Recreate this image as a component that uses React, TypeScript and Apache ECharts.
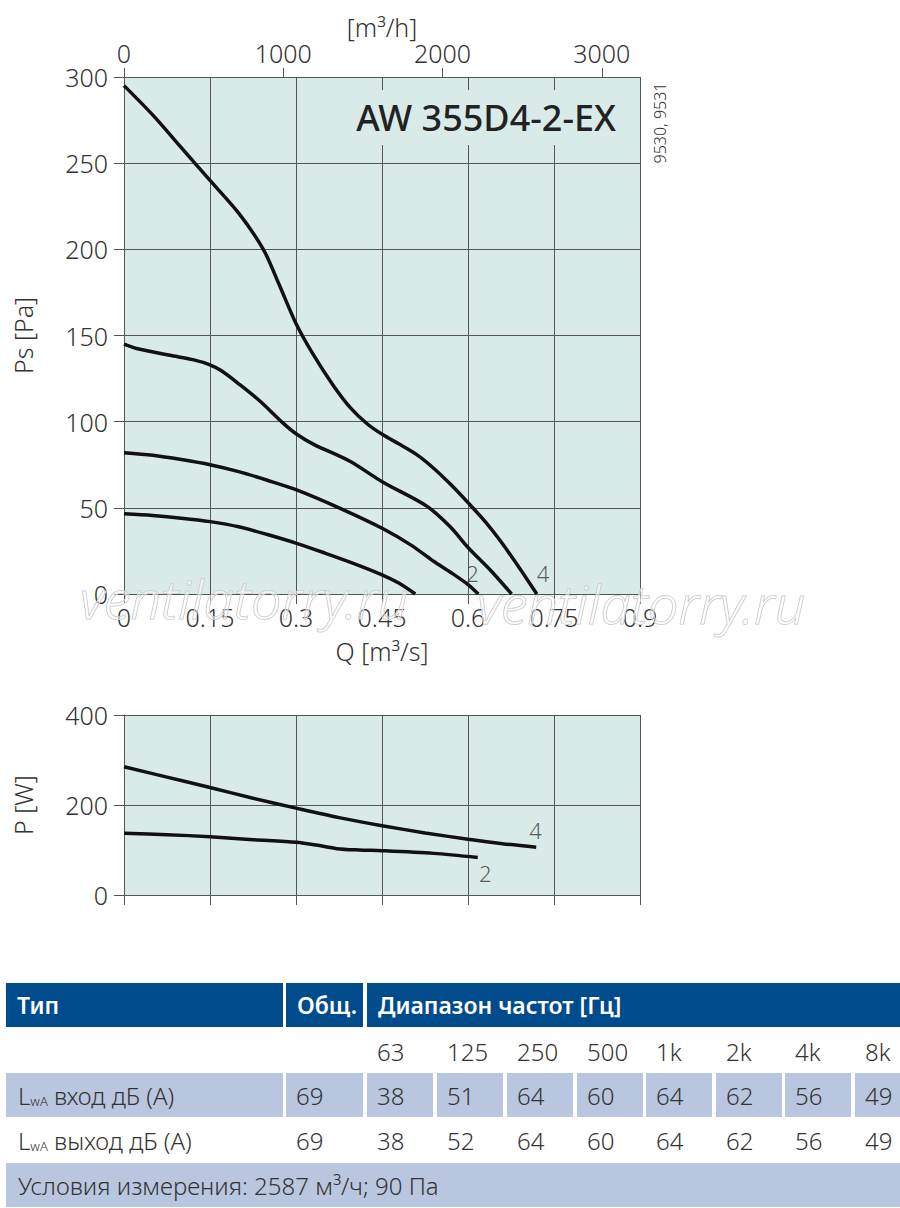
import React, { useEffect, useRef } from "react";
import * as echarts from "echarts";

// ---------- data ----------
const psCurve4: number[][] = [
  [0, 295], [0.05, 278], [0.1, 259], [0.15, 240], [0.2, 221], [0.243, 200],
  [0.27, 180], [0.3, 157], [0.33, 139], [0.365, 121], [0.395, 108], [0.425, 98.5],
  [0.451, 92.5], [0.48, 87], [0.51, 81], [0.54, 73], [0.57, 63.5], [0.6, 53],
  [0.63, 42], [0.656, 31], [0.69, 15], [0.72, 0],
];
const psCurve3: number[][] = [
  [0, 145], [0.022, 142.5], [0.08, 138.5], [0.12, 136], [0.15, 133], [0.17, 129.5],
  [0.2, 122], [0.237, 112], [0.278, 99], [0.3, 93], [0.33, 87], [0.394, 77],
  [0.451, 65], [0.528, 51], [0.569, 39], [0.6, 27], [0.64, 13.5], [0.676, 0],
];
const psCurve2: number[][] = [
  [0, 82], [0.05, 80.5], [0.1, 78], [0.15, 75], [0.2, 71], [0.25, 66],
  [0.301, 60.4], [0.377, 49.7], [0.451, 38], [0.5, 28.5], [0.54, 19],
  [0.57, 12.5], [0.6, 5.5], [0.618, 0],
];
const psCurve1: number[][] = [
  [0, 46.5], [0.05, 45.5], [0.1, 44], [0.15, 42], [0.2, 39], [0.25, 34.5],
  [0.301, 29.4], [0.35, 23.8], [0.4, 17.8], [0.451, 11], [0.48, 6.2], [0.508, 0],
];
const powerCurve4: number[][] = [
  [0, 285], [0.075, 262], [0.15, 239], [0.225, 215], [0.3, 193], [0.375, 172],
  [0.45, 154], [0.525, 138], [0.6, 124], [0.66, 114], [0.719, 106],
];
const powerCurve2: number[][] = [
  [0, 137], [0.075, 134], [0.15, 129.5], [0.225, 123], [0.3, 117], [0.335, 111],
  [0.371, 103], [0.41, 100], [0.45, 98.5], [0.54, 92.5], [0.617, 83.5],
];
const psCurveLabels = [
  { name: "2", value: [0.608, 12] },
  { name: "4", value: [0.731, 12] },
];
const powerCurveLabels = [
  { name: "4", value: [0.718, 144] },
  { name: "2", value: [0.63, 49] },
];
const freqLabels = ["63", "125", "250", "500", "1k", "2k", "4k", "8k"];
const inletValues = ["38", "51", "64", "60", "64", "62", "56", "49"];
const outletValues = ["38", "52", "64", "60", "64", "62", "56", "49"];
const inletTotal = "69";
const outletTotal = "69";
const headerLabels = ["Тип", "Общ.", "Диапазон частот [Гц]"];
const conditionText = "Условия измерения: 2587 м³/ч; 90 Па";
const modelName = "AW 355D4-2-EX";
const codeText = "9530, 9531";
const watermarkText = "ventilatorry.ru";
const flowTicksM3h = [0, 1000, 2000, 3000];

// ---------- styles ----------
const FONT = "'Noto Sans', 'Open Sans', sans-serif";
const PLOT_BG = "#d8ebe9";
const GRID_COLOR = "#555";
const TEXT_COLOR = "#333";
const CURVE_COLOR = "#111";
const HEAD_BLUE = "#004b8c";
const ROW_BLUE = "#b9c6df";
const LIGHT = 300;

function lineSeries(data: number[][], xi: number, yi: number) {
  return {
    type: "line",
    xAxisIndex: xi,
    yAxisIndex: yi,
    data,
    smooth: 0.3,
    showSymbol: false,
    symbol: "none",
    silent: true,
    lineStyle: { color: CURVE_COLOR, width: 3.5 },
    z: 3,
  };
}

function labelSeries(data: any[], xi: number, yi: number) {
  return {
    type: "scatter",
    xAxisIndex: xi,
    yAxisIndex: yi,
    data,
    symbolSize: 0,
    silent: true,
    label: {
      show: true,
      position: "inside",
      formatter: "{b}",
      fontSize: 22,
      fontWeight: LIGHT,
      fontFamily: FONT,
      color: TEXT_COLOR,
    },
    z: 4,
  };
}

function buildTable() {
  const els: any[] = [];
  const txt = (text: string, x: number, y: number, extra: any = {}) => ({
    type: "text",
    x,
    y,
    style: {
      text,
      fontSize: 24,
      fontWeight: LIGHT,
      fontFamily: FONT,
      fill: TEXT_COLOR,
      align: "left",
      verticalAlign: "middle",
      ...extra,
    },
  });
  const rect = (x: number, y: number, w: number, h: number, fill: string) => ({
    type: "rect",
    shape: { x, y, width: w, height: h },
    style: { fill },
  });
  // header
  const headTop = 983, headH = 44;
  const headCells = [[6, 277], [286, 77], [367, 533]];
  headCells.forEach((c, i) => {
    els.push(rect(c[0], headTop, c[1], headH, HEAD_BLUE));
    els.push(txt(headerLabels[i], c[0] + 11, headTop + headH / 2, { fill: "#fff", fontWeight: 600, fontSize: 23 }));
  });
  const colX = [367, 437, 507, 577, 646, 716, 785, 855];
  const colW = 66;
  // frequency row
  const freqY = 1051;
  freqLabels.forEach((f, i) => els.push(txt(f, colX[i] + 10, freqY)));
  // inlet row (shaded)
  const inTop = 1073, rowH = 44;
  els.push(rect(6, inTop, 277, rowH, ROW_BLUE));
  els.push(rect(286, inTop, 77, rowH, ROW_BLUE));
  colX.forEach((x, i) => els.push(rect(x, inTop, i === colX.length - 1 ? 900 - x : colW, rowH, ROW_BLUE)));
  const lwaRich = {
    a: { fontSize: 24, fontWeight: LIGHT, fontFamily: FONT, fill: TEXT_COLOR },
    b: { fontSize: 13, fontWeight: LIGHT, fontFamily: FONT, fill: TEXT_COLOR, verticalAlign: "bottom" },
  };
  els.push({
    type: "text",
    x: 18,
    y: inTop + rowH / 2,
    style: { text: "{a|L}{b|wA}{a| вход дБ (A)}", rich: lwaRich, verticalAlign: "middle", align: "left" },
  });
  els.push(txt(inletTotal, 296, inTop + rowH / 2));
  inletValues.forEach((v, i) => els.push(txt(v, colX[i] + 10, inTop + rowH / 2)));
  // outlet row
  const outY = 1140;
  els.push({
    type: "text",
    x: 18,
    y: outY,
    style: { text: "{a|L}{b|wA}{a| выход дБ (A)}", rich: lwaRich, verticalAlign: "middle", align: "left" },
  });
  els.push(txt(outletTotal, 296, outY));
  outletValues.forEach((v, i) => els.push(txt(v, colX[i] + 10, outY)));
  // condition row
  els.push(rect(6, 1163, 894, 44, ROW_BLUE));
  els.push(txt(conditionText, 18, 1185));
  return els;
}

export default function App() {
  const ref = useRef<HTMLDivElement>(null);
  useEffect(() => {
    if (!ref.current) return;
    const chart = echarts.init(ref.current, undefined, { renderer: "svg" });
    const axisLabelStyle = { fontSize: 25, fontWeight: LIGHT, fontFamily: FONT, color: TEXT_COLOR };
    const nameStyle = { fontSize: 25, fontWeight: LIGHT, fontFamily: FONT, color: TEXT_COLOR };
    const lineStyle = { color: GRID_COLOR, width: 1 };
    const option: any = {
      animation: false,
      backgroundColor: "#fff",
      grid: [
        { left: 124, top: 77, width: 516, height: 517, show: true, backgroundColor: PLOT_BG, borderWidth: 0 },
        { left: 124, top: 715, width: 516, height: 180, show: true, backgroundColor: PLOT_BG, borderWidth: 0 },
      ],
      xAxis: [
        {
          type: "value", gridIndex: 0, position: "bottom", min: 0, max: 0.9, interval: 0.15,
          name: "Q [m³/s]", nameLocation: "middle", nameGap: 44, nameTextStyle: nameStyle,
          axisLine: { show: true, lineStyle },
          axisTick: { show: true, length: 10, lineStyle },
          axisLabel: { ...axisLabelStyle, margin: 10, formatter: (v: number) => String(+v.toFixed(2)) },
          splitLine: { show: true, lineStyle },
        },
        {
          type: "value", gridIndex: 0, position: "top", min: 0, max: 3240, interval: 1000,
          name: "[m³/h]", nameLocation: "middle", nameGap: 36, nameTextStyle: nameStyle,
          axisLine: { show: true, lineStyle },
          axisTick: { show: true, length: 9, lineStyle, customValues: flowTicksM3h },
          axisLabel: { ...axisLabelStyle, margin: 12, customValues: flowTicksM3h, formatter: (v: number) => String(v) },
          splitLine: { show: false },
        },
        {
          type: "value", gridIndex: 1, position: "bottom", min: 0, max: 0.9, interval: 0.15,
          axisLine: { show: true, lineStyle },
          axisTick: { show: true, length: 10, lineStyle },
          axisLabel: { show: false },
          splitLine: { show: true, lineStyle },
        },
      ],
      yAxis: [
        {
          type: "value", gridIndex: 0, min: 0, max: 300, interval: 50,
          name: "Ps [Pa]", nameLocation: "middle", nameGap: 89, nameRotate: 90, nameTextStyle: nameStyle,
          axisLine: { show: true, lineStyle },
          axisTick: { show: true, length: 10, lineStyle },
          axisLabel: { ...axisLabelStyle, margin: 16 },
          splitLine: { show: true, lineStyle },
        },
        {
          type: "value", gridIndex: 1, min: 0, max: 400, interval: 200,
          name: "P [W]", nameLocation: "middle", nameGap: 89, nameRotate: 90, nameTextStyle: nameStyle,
          axisLine: { show: true, lineStyle },
          axisTick: { show: true, length: 10, lineStyle },
          axisLabel: { ...axisLabelStyle, margin: 16 },
          splitLine: { show: true, lineStyle },
        },
      ],
      series: [
        lineSeries(psCurve4, 0, 0),
        lineSeries(psCurve3, 0, 0),
        lineSeries(psCurve2, 0, 0),
        lineSeries(psCurve1, 0, 0),
        lineSeries(powerCurve4, 2, 1),
        lineSeries(powerCurve2, 2, 1),
        labelSeries(psCurveLabels, 0, 0),
        labelSeries(powerCurveLabels, 2, 1),
      ],
      graphic: [
        { type: "rect", shape: { x: 345, y: 90, width: 282, height: 55 }, style: { fill: PLOT_BG }, z: 5 },
        {
          type: "text", x: 616, y: 117, z: 6,
          style: { text: modelName, fontSize: 36, fontWeight: 500, fontFamily: FONT, fill: "#222", align: "right", verticalAlign: "middle" },
        },
        {
          type: "text", x: 660, y: 123, rotation: Math.PI / 2, z: 6,
          style: { text: codeText, fontSize: 16, fontWeight: LIGHT, fontFamily: FONT, fill: TEXT_COLOR, align: "center", verticalAlign: "middle" },
        },
        {
          type: "text", x: 80, y: 598, z: 20,
          style: { text: watermarkText, fontSize: 54, fontStyle: "italic", fontWeight: LIGHT, fontFamily: FONT, fill: "rgba(255,255,255,0.45)", stroke: "#c4c4c4", lineWidth: 1, align: "left", verticalAlign: "middle" },
        },
        {
          type: "text", x: 477, y: 603, z: 20,
          style: { text: watermarkText, fontSize: 54, fontStyle: "italic", fontWeight: LIGHT, fontFamily: FONT, fill: "rgba(255,255,255,0.45)", stroke: "#c4c4c4", lineWidth: 1, align: "left", verticalAlign: "middle" },
        },
        ...buildTable(),
      ],
    };
    chart.setOption(option);
    return () => chart.dispose();
  }, []);
  return <div ref={ref} style={{ position: "absolute", left: 0, top: 0, width: 900, height: 1208 }} />;
}
